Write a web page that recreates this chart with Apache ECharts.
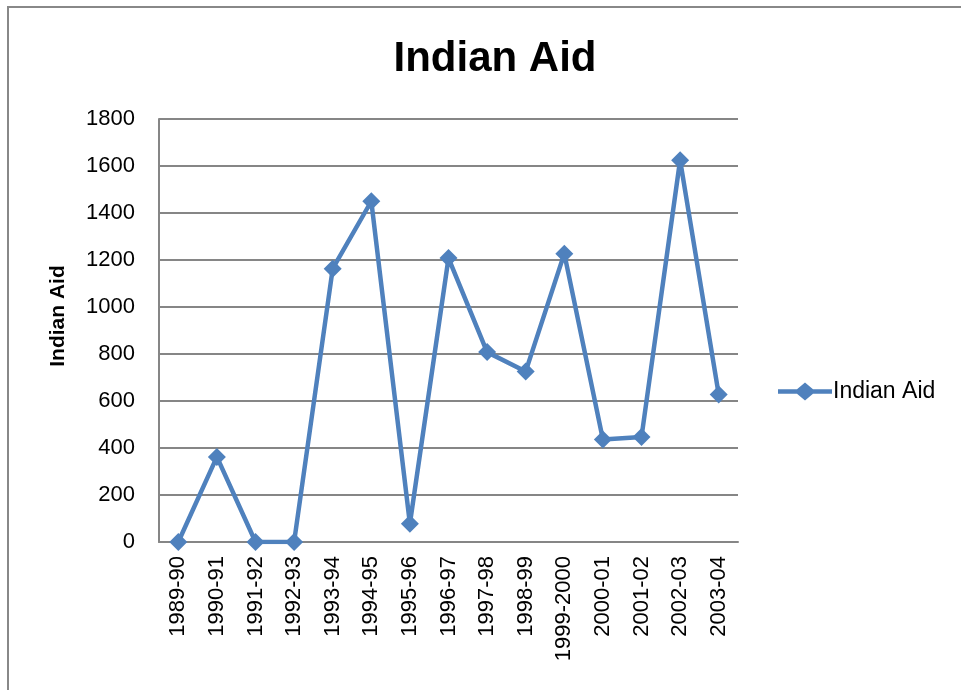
<!DOCTYPE html>
<html><head><meta charset="utf-8">
<script src="https://cdn.jsdelivr.net/npm/echarts@6/dist/echarts.min.js"></script>
<style>html,body{margin:0;padding:0;background:#fff}#c{width:961px;height:690px}</style>
</head><body><div id="c"></div>
<script>
const categories = ["1989-90","1990-91","1991-92","1992-93","1993-94","1994-95","1995-96","1996-97","1997-98","1998-99","1999-2000","2000-01","2001-02","2002-03","2003-04"];
const indianAid = [0, 362, 0, 0, 1163, 1450, 78, 1208, 808, 726, 1227, 436, 447, 1625, 628];
const yTicks = [0, 200, 400, 600, 800, 1000, 1200, 1400, 1600, 1800];
const seriesName = 'Indian Aid';
const yAxisTitle = 'Indian Aid';

const chart = echarts.init(document.getElementById('c'));
const font = 'Liberation Sans, Arial, sans-serif';
chart.setOption({
  animation: false,
  backgroundColor: '#fff',
  graphic: [
    {type:'rect', shape:{x:8,y:7,width:1000,height:1000}, style:{fill:'none', stroke:'#888', lineWidth:2}, silent:true},
    {type:'text', x:58, y:316, rotation:Math.PI/2,
      style:{text:yAxisTitle, fontFamily:font, fontWeight:'bold', fontSize:21, fill:'#000', align:'center', verticalAlign:'middle'}}
  ],
  title: {text:'Indian Aid', left: 490, top: 33, textAlign:'center',
    textStyle:{fontFamily:font, fontWeight:'bold', fontSize:42, color:'#000'}},
  legend: {left: 773, top: 375, itemWidth: 54, itemHeight: 18, itemGap: 4,
    icon: 'path://M0,6.75L19,6.75L27,0L35,6.75L54,6.75L54,11.25L35,11.25L27,18L19,11.25L0,11.25Z',
    itemStyle:{color:'#4F81BD'},
    textStyle:{fontFamily:font, fontSize:23, color:'#000', padding:[0,0,0,-4]},
    data:[seriesName]},
  grid: {left:159, right:223, top:119, bottom:148, containLabel:false},
  xAxis: {type:'category', data:categories, boundaryGap:true,
    axisLine:{lineStyle:{color:'#868686', width:2}}, axisTick:{show:false},
    axisLabel:{rotate:90, margin:14, fontFamily:font, fontSize:22, color:'#000', interval:0}},
  yAxis: {type:'value', min:yTicks[0], max:yTicks[yTicks.length-1], interval:200,
    axisLine:{show:true, lineStyle:{color:'#868686', width:2}}, axisTick:{show:false},
    splitLine:{lineStyle:{color:'#868686', width:2}},
    axisLabel:{margin:24, fontFamily:font, fontSize:22, color:'#000', formatter: v => String(v)}},
  series: [{name:seriesName, type:'line', data:indianAid, symbol:'diamond', symbolSize:18,
    lineStyle:{color:'#4F81BD', width:4.5}, itemStyle:{color:'#4F81BD'}}]
});
</script></body></html>
